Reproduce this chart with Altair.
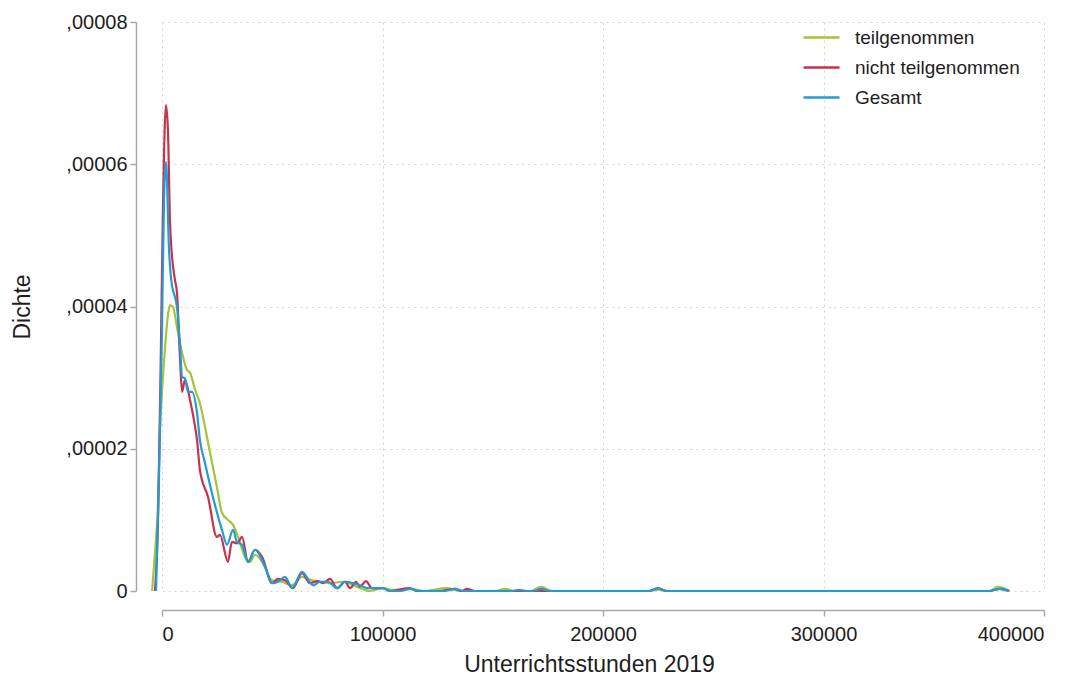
import altair as alt
import pandas as pd

# x in thousand hours, y in 1e-6 density units
green_x = [-4.5, -3.2, -1.8, -0.9, 0.5, 1.4, 2.7, 3.6, 5.0, 6.8, 9.1, 11.3, 12.7, 15.0, 17.2, 19.5,
           21.8, 24.9, 27.2, 29.9, 32.2, 34.5, 37.6, 39.9, 42.2, 45.8, 49.9, 54.4, 59.0, 63.5, 68.0,
           71.7, 76.2, 82.1, 88.4, 94.3, 100.2, 104.8, 112.5, 119, 129, 135, 151, 155.5, 160, 167,
           172, 177, 221, 225, 229.5, 375.5, 379, 384.5]
green_y = [0, 5.3, 12.4, 22.6, 30.4, 34.3, 38.8, 40.2, 39.9, 37.1, 33.5, 31.1, 30.7, 28.3, 26.4, 23.1,
           19.4, 14.6, 11.0, 10.0, 9.3, 7.6, 4.8, 4.1, 5.1, 3.9, 1.5, 1.3, 0.8, 2.0, 1.5,
           1.3, 1.1, 1.3, 0.6, 0, 0.4, 0.15, 0.3, 0, 0.4, 0, 0, 0.3, 0, 0,
           0.6, 0, 0, 0.2, 0, 0, 0.6, 0]

red_x = [-3.2, -1.8, -0.5, 0.5, 1.8, 2.7, 3.6, 4.5, 5.9, 6.8, 8.2, 9.1, 10.4, 12.7, 15.0, 15.9,
         17.2, 20.9, 24.9, 26.3, 29.9, 31.7, 34.0, 36.3, 39.0, 42.2, 45.4, 49.9, 52.6, 55.8, 59.4,
         63.5, 67.1, 70.7, 73.0, 76.2, 79.4, 83.0, 85.3, 88.0, 89.8, 92.5, 95.2, 100.2, 103.4,
         112.5, 115.6, 126, 132.9, 136, 138.3, 142, 221, 225, 228.6, 375, 380, 384]
red_y = [0, 10.0, 33.9, 55.0, 68.3, 64.8, 52.2, 47.2, 43.7, 41.9, 32.5, 28.0, 29.7, 26.9, 23.1, 21.2,
         17.0, 13.2, 7.6, 7.9, 4.1, 6.9, 6.7, 7.6, 4.1, 5.8, 4.8, 1.1, 1.7, 1.5, 0.4,
         2.5, 1.1, 1.4, 1.1, 1.7, 0.4, 1.3, 0.4, 1.3, 0.6, 1.4, 0.4, 0.4, 0,
         0.4, 0, 0, 0.3, 0, 0.3, 0, 0, 0.4, 0, 0, 0.3, 0]

blue_x = [-2.7, -1.4, 0, 0.9, 1.8, 3.2, 4.5, 5.0, 6.8, 8.2, 9.1, 10.4, 11.8, 13.6, 15.9, 17.2,
          19.5, 23.1, 27.2, 29.5, 32.2, 34.0, 36.3, 39.0, 42.2, 46.7, 49.9, 52.6, 55.8, 59.0,
          63.5, 68.5, 71.7, 75.3, 79.4, 83.0, 86.6, 89.8, 93.0, 100.2, 103.4, 108, 112.5, 117,
          128, 132.9, 137, 158, 162, 166, 168, 172, 176, 221, 225, 228.6, 375, 380, 384]
blue_y = [0, 15.6, 36.7, 55.0, 60.3, 47.9, 43.0, 42.3, 39.9, 34.3, 30.1, 29.9, 28.0, 28.0, 25.0, 21.2,
          18.0, 13.2, 8.6, 6.5, 8.6, 6.9, 6.5, 4.1, 5.8, 3.4, 1.1, 1.3, 2.0, 0.4,
          2.7, 0.8, 1.3, 1.3, 0.4, 1.3, 1.1, 0.8, 0.4, 0.4, 0, 0, 0.3, 0,
          0, 0.3, 0, 0, 0.15, 0, 0, 0.3, 0, 0, 0.4, 0, 0, 0.3, 0]

series = ["teilgenommen", "nicht teilgenommen", "Gesamt"]
colors = ["#a5c43a", "#c8324b", "#239bd7"]

x_ticks = [0, 100000, 200000, 300000, 400000]
y_ticks = [0, 0.00002, 0.00004, 0.00006, 0.00008]

rows = []
for name, xs, ys in zip(series, [green_x, red_x, blue_x], [green_y, red_y, blue_y]):
    for i, (a, b) in enumerate(zip(xs, ys)):
        rows.append({"group": name, "x": a * 1000, "y": b * 1e-6, "i": i})
df = pd.DataFrame(rows)

FONT = "Liberation Sans"
TXT = "#1e1e1e"
AX = "#a8a8a8"

color = alt.Color(
    "group:N",
    scale=alt.Scale(domain=series, range=colors),
    legend=alt.Legend(
        title=None, orient="none", legendX=640, legendY=-4,
        symbolType="stroke", symbolSize=1296, symbolStrokeWidth=2.5,
        labelFontSize=19, labelFont=FONT, labelColor=TXT, labelOffset=14,
        labelLimit=0, rowPadding=-5, padding=0,
    ),
)

xenc = alt.X(
    "x:Q",
    scale=alt.Scale(domain=[0, 400000], nice=False, zero=False),
    axis=alt.Axis(
        values=x_ticks, format="d", title="Unterrichtsstunden 2019",
        offset=19, tickSize=6, labelPadding=8, titleX=427, titleY=54,
        titleBaseline="middle", titleAnchor="start", titleAlign="center",
    ),
)
yenc = alt.Y(
    "y:Q",
    scale=alt.Scale(domain=[0, 0.00008], nice=False),
    axis=alt.Axis(
        values=y_ticks, title="Dichte",
        labelExpr="datum.value == 0 ? '0' : replace(format(datum.value, '.5f'), '0.', ',')",
        offset=26, tickSize=6, labelPadding=3, titleX=-114, titleY=284.5,
        titleBaseline="middle", titleAlign="center", titleAngle=-90,
    ),
)

layers = []
for name in series:
    layers.append(
        alt.Chart(df[df.group == name])
        .mark_line(strokeWidth=2.2, interpolate="monotone", clip=False)
        .encode(x=xenc, y=yenc, color=color, order="i:Q")
    )

chart = (
    alt.layer(*layers)
    .properties(
        width=882, height=569,
        autosize=alt.AutoSizeParams(type="none"),
        padding={"left": 154, "top": 14, "right": 20, "bottom": 88},
        background="white",
    )
    .configure_view(stroke=None)
    .configure_axis(
        labelFont=FONT, titleFont=FONT, labelFontSize=20, titleFontSize=23,
        titleFontWeight="normal", labelColor=TXT, titleColor=TXT,
        domainColor=AX, tickColor=AX, domainWidth=1.5, tickWidth=1.5,
        grid=True, gridColor="#d2d2d2", gridDash=[2, 4], gridWidth=1,
    )
)

chart.save("out.html", embed_options={"renderer": "svg", "actions": False})
